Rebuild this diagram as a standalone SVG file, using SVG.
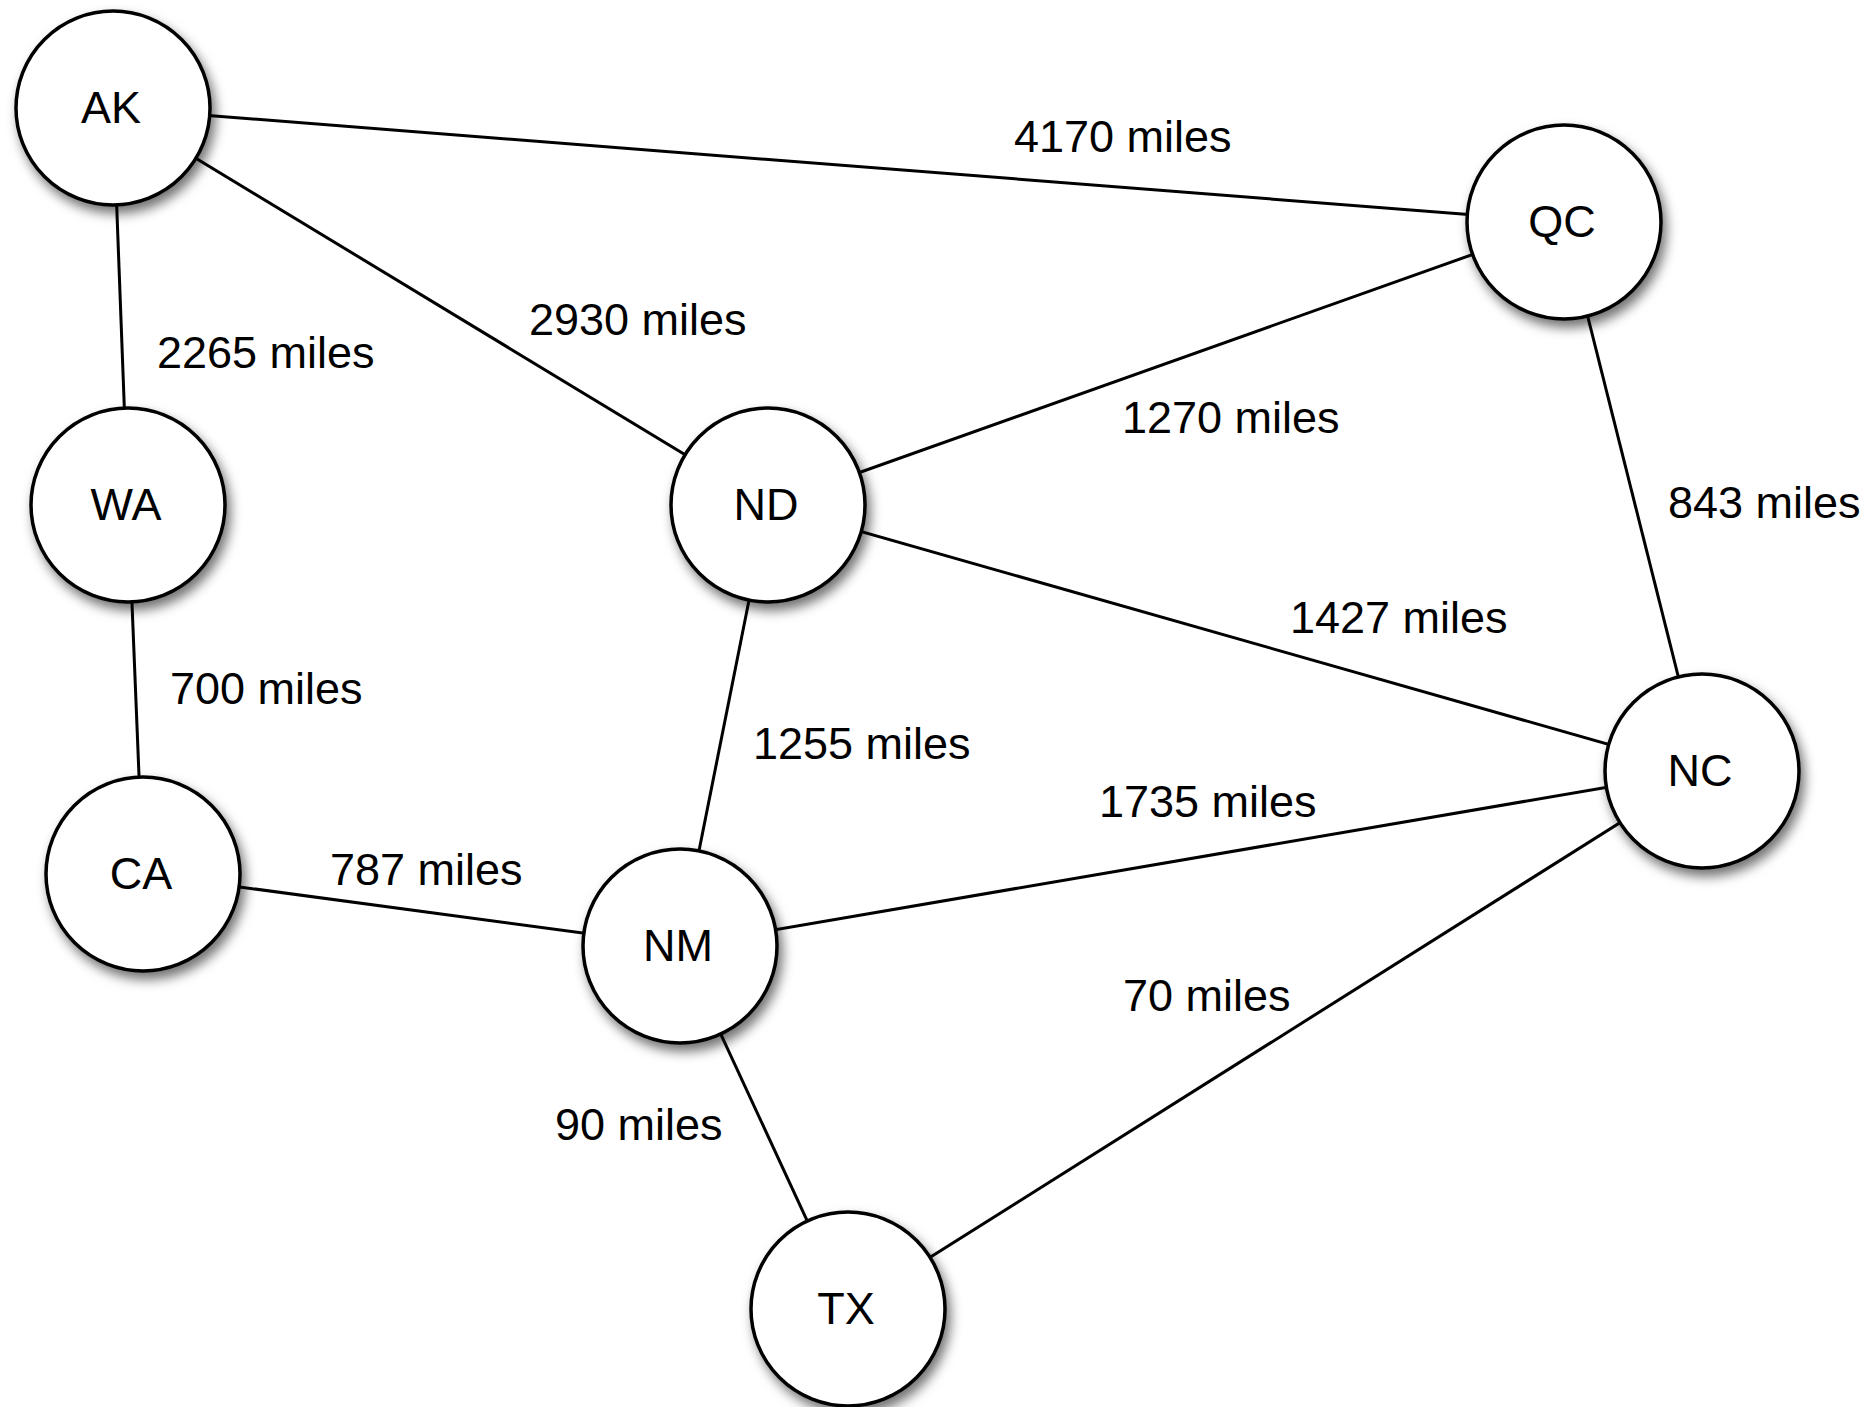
<svg xmlns="http://www.w3.org/2000/svg" width="1874" height="1407" viewBox="0 0 1874 1407">
<defs>
<filter id="sh" x="-30%" y="-30%" width="160%" height="160%">
<feDropShadow dx="4" dy="7" stdDeviation="6" flood-color="#000" flood-opacity="0.55"/>
</filter>
<style>
.e{stroke:#000;stroke-width:3;fill:none}
.n circle{fill:#fff;stroke:#000;stroke-width:3.5}
.nf{filter:url(#sh)}
text{font-family:"Liberation Sans",Arial,Helvetica,sans-serif;font-size:45px;fill:#000}
.c{text-anchor:middle}
</style>
</defs>
<rect width="1874" height="1407" fill="#fff"/>
<g id="connectors">
<line class="e" x1="113" y1="108" x2="1564" y2="222"/>
<line class="e" x1="113" y1="108" x2="768" y2="505"/>
<line class="e" x1="113" y1="108" x2="128" y2="505"/>
<line class="e" x1="128" y1="505" x2="143" y2="874"/>
<line class="e" x1="768" y1="505" x2="1564" y2="222"/>
<line class="e" x1="768" y1="505" x2="1702" y2="771"/>
<line class="e" x1="768" y1="505" x2="680" y2="946"/>
<line class="e" x1="1564" y1="222" x2="1702" y2="771"/>
<line class="e" x1="1702" y1="771" x2="680" y2="946"/>
<line class="e" x1="1702" y1="771" x2="848" y2="1309"/>
<line class="e" x1="143" y1="874" x2="680" y2="946"/>
<line class="e" x1="680" y1="946" x2="848" y2="1309"/>
</g>
<g id="edge-labels">
<text x="1014" y="152">4170 miles</text>
<text x="529" y="335">2930 miles</text>
<text x="157" y="368">2265 miles</text>
<text x="1122" y="433">1270 miles</text>
<text x="1668" y="518">843 miles</text>
<text x="1290" y="633">1427 miles</text>
<text x="170" y="704">700 miles</text>
<text x="753" y="759">1255 miles</text>
<text x="1099" y="817">1735 miles</text>
<text x="330" y="885">787 miles</text>
<text x="1123" y="1011">70 miles</text>
<text x="555" y="1140">90 miles</text>
</g>
<g id="node-AK" class="n"><circle class="nf" cx="113" cy="108" r="97"/><text class="c" x="111" y="123">AK</text></g>
<g id="node-QC" class="n"><circle class="nf" cx="1564" cy="222" r="97"/><text class="c" x="1562" y="237">QC</text></g>
<g id="node-WA" class="n"><circle class="nf" cx="128" cy="505" r="97"/><text class="c" x="126" y="520">WA</text></g>
<g id="node-ND" class="n"><circle class="nf" cx="768" cy="505" r="97"/><text class="c" x="766" y="520">ND</text></g>
<g id="node-NC" class="n"><circle class="nf" cx="1702" cy="771" r="97"/><text class="c" x="1700" y="786">NC</text></g>
<g id="node-CA" class="n"><circle class="nf" cx="143" cy="874" r="97"/><text class="c" x="141" y="889">CA</text></g>
<g id="node-NM" class="n"><circle class="nf" cx="680" cy="946" r="97"/><text class="c" x="678" y="961">NM</text></g>
<g id="node-TX" class="n"><circle class="nf" cx="848" cy="1309" r="97"/><text class="c" x="846" y="1324">TX</text></g>
</svg>
